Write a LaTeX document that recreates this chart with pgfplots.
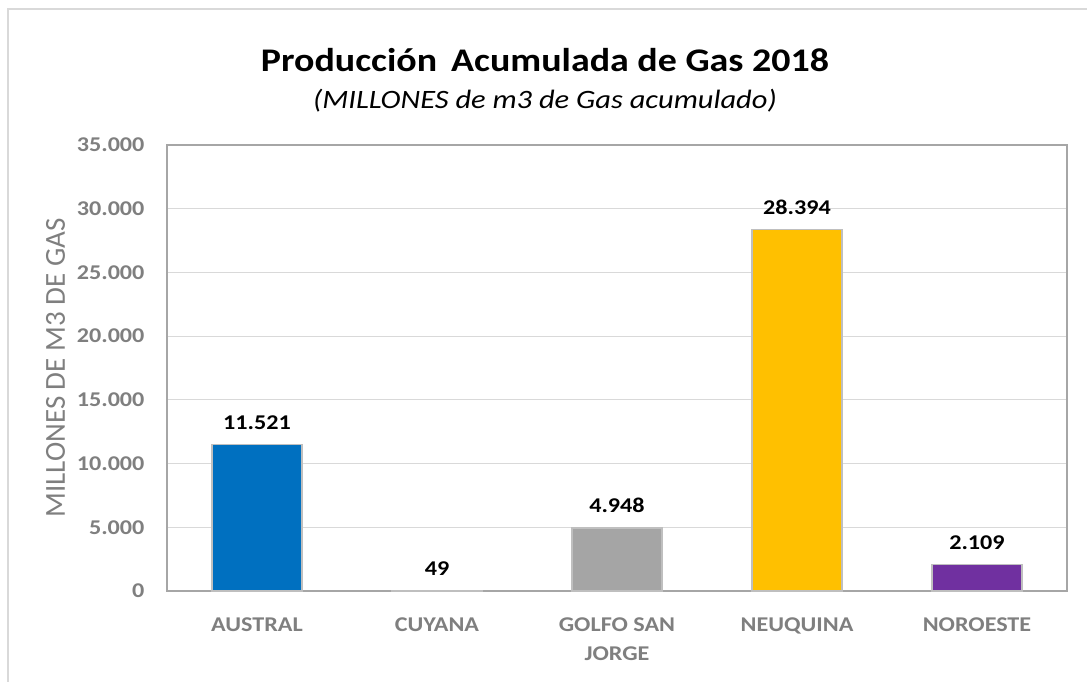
\documentclass[border=0pt]{standalone}
\usepackage{pgfplots}
\pgfplotsset{compat=1.18}
\usepackage{fontspec}
\setmainfont[FakeStretch=1.15]{Carlito}
\newfontfamily\plainfont{Carlito}
\definecolor{cblue}{HTML}{0070C0}
\definecolor{clgray}{HTML}{D0D0D0}
\definecolor{cgray}{HTML}{A5A5A5}
\definecolor{cyellow}{HTML}{FFC000}
\definecolor{cpurple}{HTML}{7030A0}
\definecolor{tickgray}{HTML}{7F7F7F}
\definecolor{gridgray}{HTML}{D9D9D9}
\definecolor{boxgray}{HTML}{A6A6A6}
\definecolor{outline}{HTML}{BFBFBF}
\begin{document}
\begin{tikzpicture}[x=1pt,y=1pt]
\useasboundingbox (0,0) rectangle (1087,682);
\draw[gridgray, line width=1.5pt] (8,-5) -- (8,673) -- (1095,673);
\node[anchor=base, font=\bfseries\fontsize{33}{38}\selectfont] at (545,610) {Producción\, Acumulada de Gas 2018};
\node[anchor=base, font=\itshape\fontsize{26.5}{31}\selectfont] at (545,573) {(MILLONES de m3 de Gas acumulado)};
\begin{axis}[
  at={(167pt,91pt)}, anchor=south west,
  width=900pt, height=446pt, scale only axis,
  xmin=-0.5, xmax=4.5, ymin=0, ymax=35000,
  xtick={0,1,2,3,4},
  xticklabels={AUSTRAL,CUYANA,{GOLFO SAN\\JORGE},NEUQUINA,NOROESTE},
  ytick={0,5000,10000,15000,20000,25000,30000,35000},
  scaled y ticks=false,
  /pgf/number format/.cd, fixed, precision=0, 1000 sep={.}, assume math mode=true,
  /pgfplots/.cd,
  major tick length=0pt,
  ymajorgrids, grid style={gridgray, line width=1pt},
  axis line style={boxgray, line width=1.3pt},
  tick label style={tickgray, font=\bfseries\fontsize{21}{29.5}\selectfont},
  xticklabel style={align=center, yshift=-23pt},
  yticklabel style={xshift=-19pt},
  ylabel={MILLONES DE M3 DE GAS},
  ylabel style={tickgray, font=\plainfont\fontsize{29}{32}\selectfont, at={(axis description cs:0,0.5)}, anchor=center, yshift=111.5pt},
  ybar, bar width=0.5, bar shift=0pt,
  nodes near coords,
  every node near coord/.append style={black, font=\bfseries\fontsize{21}{25}\selectfont, yshift=11pt},
  clip=false,
]
\addplot[fill=cblue, draw=outline, line width=1.2pt] coordinates {(0,11521)};
\addplot[fill=clgray, draw=outline, line width=1.2pt] coordinates {(1,49)};
\addplot[fill=cgray, draw=outline, line width=1.2pt] coordinates {(2,4948)};
\addplot[fill=cyellow, draw=outline, line width=1.2pt] coordinates {(3,28394)};
\addplot[fill=cpurple, draw=outline, line width=1.2pt] coordinates {(4,2109)};
\end{axis}
\end{tikzpicture}
\end{document}
